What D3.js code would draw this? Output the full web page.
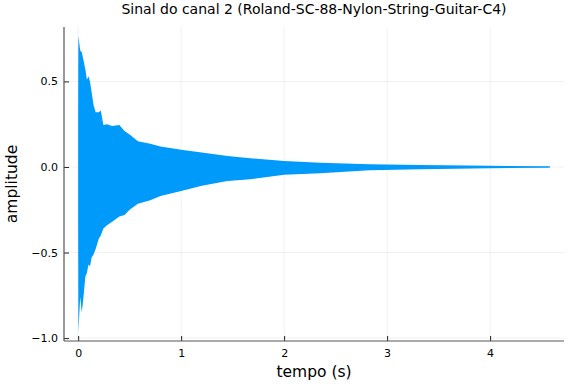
<!DOCTYPE html>
<html>
<head>
<meta charset="utf-8">
<script src="https://cdn.jsdelivr.net/npm/d3@7"></script>
<style>
  html, body { margin: 0; padding: 0; background: #fff; }
  svg { display: block; }
  text { font-family: "DejaVu Sans", sans-serif; fill: #000; }
</style>
</head>
<body>
<div id="chart"></div>
<script>
// ---- data (signal envelope) ----
const title = "Sinal do canal 2 (Roland-SC-88-Nylon-String-Guitar-C4)";
const xLabel = "tempo (s)";
const yLabel = "amplitude";
const xTicks = [0, 1, 2, 3, 4];
const yTicks = [-1.0, -0.5, 0.0, 0.5];
const timeS = [0.000, 0.002, 0.020, 0.035, 0.050, 0.070, 0.085, 0.100, 0.115, 0.130, 0.150, 0.170, 0.200, 0.220, 0.245, 0.280, 0.330, 0.400, 0.450, 0.500, 0.580, 0.700, 0.800, 1.000, 1.200, 1.450, 1.670, 2.000, 2.350, 2.830, 3.320, 4.000, 4.580];
const upperEnv = [0.30, 0.766, 0.68, 0.67, 0.63, 0.57, 0.51, 0.53, 0.50, 0.44, 0.36, 0.32, 0.32, 0.33, 0.245, 0.25, 0.24, 0.245, 0.21, 0.19, 0.15, 0.135, 0.12, 0.100, 0.085, 0.064, 0.051, 0.035, 0.025, 0.016, 0.012, 0.007, 0.004];
const lowerEnv = [-0.30, -0.965, -0.76, -0.85, -0.77, -0.64, -0.62, -0.57, -0.58, -0.53, -0.51, -0.48, -0.42, -0.40, -0.36, -0.34, -0.32, -0.29, -0.28, -0.25, -0.215, -0.195, -0.17, -0.140, -0.110, -0.082, -0.072, -0.046, -0.037, -0.019, -0.013, -0.007, -0.004];

const W = 576, H = 384;
const margin = { left: 64, right: 12, top: 27, bottom: 43 };
const svg = d3.select("#chart").append("svg").attr("width", W).attr("height", H);

const data = timeS.map((t, i) => ({ t, hi: upperEnv[i], lo: lowerEnv[i] }));
const tMax = d3.max(timeS), aMin = d3.min(lowerEnv), aMax = d3.max(upperEnv);
const padX = 0.03 * tMax, padY = 0.03 * (aMax - aMin);

const x = d3.scaleLinear().domain([-padX, tMax + padX]).range([margin.left, W - margin.right]);
const y = d3.scaleLinear().domain([aMin - padY, aMax + padY]).range([H - margin.bottom, margin.top]);

const x0 = margin.left, x1 = W - margin.right, y0 = H - margin.bottom, y1 = margin.top;

// grid
svg.append("g").selectAll("line").data(xTicks).join("line")
  .attr("x1", d => x(d)).attr("x2", d => x(d)).attr("y1", y0).attr("y2", y1)
  .attr("stroke", "#000").attr("stroke-opacity", 0.1).attr("stroke-width", 0.6);
svg.append("g").selectAll("line").data(yTicks).join("line")
  .attr("x1", x0).attr("x2", x1).attr("y1", d => y(d)).attr("y2", d => y(d))
  .attr("stroke", "#000").attr("stroke-opacity", 0.1).attr("stroke-width", 0.6);

// signal envelope
const area = d3.area().x(d => x(d.t)).y0(d => y(d.lo)).y1(d => y(d.hi)).curve(d3.curveLinear);
svg.append("path").datum(data).attr("d", area).attr("fill", "#009AFA");

// axes
const xAxis = d3.axisBottom(x).tickValues(xTicks).tickFormat(d3.format("d")).tickSize(-5).tickPadding(8);
const yAxis = d3.axisLeft(y).tickValues(yTicks).tickFormat(d => d3.format(".1f")(d).replace("-", "\u2212")).tickSize(-5).tickPadding(6);

const gx = svg.append("g").attr("transform", `translate(0,${y0})`).call(xAxis);
const gy = svg.append("g").attr("transform", `translate(${x0},0)`).call(yAxis);
[gx, gy].forEach(g => {
  g.select(".domain").remove();
  g.selectAll(".tick line").attr("stroke", "#222").attr("stroke-width", 1);
  g.selectAll(".tick text").attr("font-family", "DejaVu Sans, sans-serif").attr("font-size", 11).attr("fill", "#000");
});
svg.append("line").attr("x1", x0).attr("x2", x1).attr("y1", y0).attr("y2", y0).attr("stroke", "#555").attr("stroke-width", 1.2);
svg.append("line").attr("x1", x0).attr("x2", x0).attr("y1", y0).attr("y2", y1).attr("stroke", "#555").attr("stroke-width", 1.2);

// labels
svg.append("text").attr("x", (x0 + x1) / 2).attr("y", 14).attr("text-anchor", "middle")
  .attr("font-size", 14).text(title);
svg.append("text").attr("x", (x0 + x1) / 2).attr("y", 377).attr("text-anchor", "middle")
  .attr("font-size", 15.5).text(xLabel);
svg.append("text").attr("transform", `translate(17,${(y0 + y1) / 2}) rotate(-90)`).attr("text-anchor", "middle")
  .attr("font-size", 15.5).text(yLabel);
</script>
</body>
</html>
